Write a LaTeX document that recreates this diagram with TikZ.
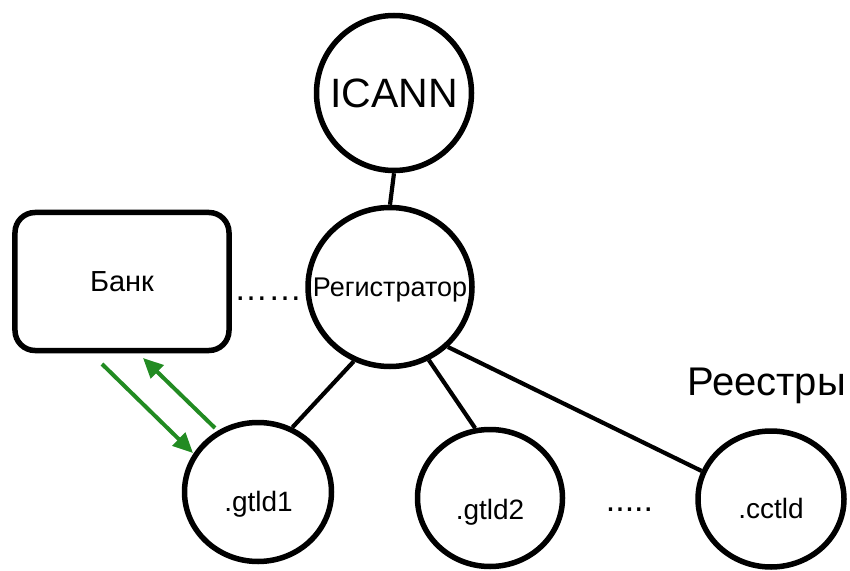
\documentclass[tikz,border=0pt]{standalone}
\usepackage{fontspec}
\setmainfont{Liberation Sans}
\usetikzlibrary{shapes.geometric,arrows.meta}
\definecolor{arrgreen}{RGB}{34,139,34}
\begin{document}
\begin{tikzpicture}[x=1bp,y=-1bp,
  ring/.style={draw=black, line width=5.5bp, ellipse, inner sep=0pt},
  conn/.style={draw=black, line width=4.2bp},
  garrow/.style={draw=arrgreen, line width=4bp, -{Triangle[length=20bp,width=18bp]}},
  lbl/.style={anchor=base, inner sep=0pt, font=\fontsize{#1bp}{#1bp}\selectfont},
]
\useasboundingbox (0,0) rectangle (850,571);

% nodes
\node[ring, minimum width=155bp, minimum height=155bp,
      font=\fontsize{41bp}{41bp}\selectfont] (icann) at (394,93) {\makebox[0pt]{ICANN}};
\node[ring, minimum width=164bp, minimum height=159bp, text depth=0pt,
      font=\fontsize{27bp}{27bp}\selectfont] (reg) at (390,287) {\makebox[0pt]{Регистратор}};
\node[draw=black, line width=5.5bp, rounded corners=20bp, inner sep=0pt,
      minimum width=214bp, minimum height=138bp,
      font=\fontsize{29bp}{29bp}\selectfont] (bank) at (122,281.5) {Банк};
\node[ring, minimum width=147bp, minimum height=139bp] (g1) at (258,492) {};
\node[ring, minimum width=145bp, minimum height=137bp] (g2) at (490,498) {};
\node[ring, minimum width=146bp, minimum height=136bp] (cc) at (771,499) {};

% labels
\node[lbl=28] (g1t) at (258.5,511) {.gtld1};
\node[lbl=28] (g2t) at (490,519) {.gtld2};
\node[lbl=28] (cct) at (771,518) {.cctld};
\node[lbl=40] (reestr) at (766.5,395) {Реестры};
\node[lbl=34] (dots1) at (268,300) {……};
\node[lbl=34] (dots2) at (629.5,511) {.....};

% connectors
\draw[conn] (icann.south) -- (reg.north);
\draw[conn] (reg.244) -- (g1.62);
\draw[conn] (reg.298) -- (g2.102);
\draw[conn] (reg.314) -- (cc.158);

% green arrows
\coordinate (a1s) at (102,364);
\coordinate (a1e) at (193,453);
\coordinate (a2s) at (215,428);
\coordinate (a2e) at (143,358);
\draw[garrow] (a1s) -- (a1e);
\draw[garrow] (a2s) -- (a2e);
\end{tikzpicture}
\end{document}
